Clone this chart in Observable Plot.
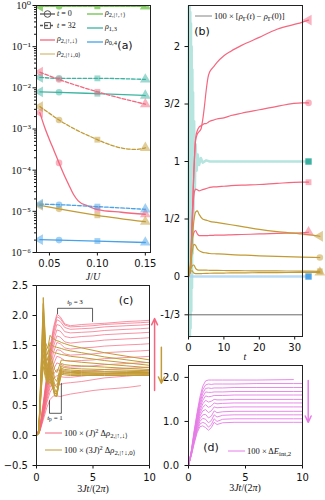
<!DOCTYPE html>
<html>
<head>
<meta charset="utf-8">
<script src="https://cdn.jsdelivr.net/npm/d3@7"></script>
<script src="https://cdn.jsdelivr.net/npm/@observablehq/plot@0.6"></script>
<style>
html,body{margin:0;padding:0;background:#fff;}
#wrap{position:relative;width:325px;height:500px;overflow:hidden;background:#fff;color:#111;font-family:"DejaVu Sans",sans-serif;}
.lbl{position:absolute;white-space:nowrap;line-height:1;color:#111;}
.m{font-family:"Liberation Serif","DejaVu Serif",serif;}
.s{font-family:"DejaVu Sans",sans-serif;}
.lbl sub{font-size:0.8em;vertical-align:-0.3em;line-height:0;}
.lbl sup{font-size:0.75em;vertical-align:0.45em;line-height:0;}
</style>
</head>
<body>
<div id="wrap"></div>
<script>
// ---------------- Panel (a): rho vs J/U (log) ----------------
const jU = [0.04, 0.06, 0.10, 0.15];
const aGreenT0 = [0.97, 0.97, 0.97, 0.97];
const aGreenT32 = [0.95, 0.95, 0.95, 0.95];
const aTealT0 = [0.0080, 0.0078, 0.0072, 0.0065];
const aTealT32 = [0.018, 0.017, 0.017, 0.016];
const aPinkT32 = [0.024, 0.016, 0.008, 0.004];
const aPinkT0 = [2.5e-3, 1.5e-4, 1.1e-5, 8.5e-6];
const aPinkT0CurveJ = [0.04, 0.045, 0.05, 0.055, 0.06, 0.065, 0.07, 0.075, 0.08, 0.09, 0.10, 0.125, 0.15];
const aPinkT0CurveV = [2.5e-3, 1.1e-3, 5.5e-4, 2.9e-4, 1.5e-4, 8e-5, 4.5e-5, 2.6e-5, 1.8e-5, 1.35e-5, 1.1e-5, 9.5e-6, 8.5e-6];
const aGoldT0 = [1.4e-5, 1.15e-5, 8e-6, 5.6e-6];
const aGoldT32 = [3.5e-3, 1.65e-3, 5.5e-4, 3.5e-4];
const aGoldT32CurveJ = [0.04, 0.05, 0.06, 0.07, 0.08, 0.09, 0.10, 0.11, 0.12, 0.13, 0.14, 0.15];
const aGoldT32CurveV = [3.5e-3, 2.4e-3, 1.65e-3, 1.2e-3, 9e-4, 7e-4, 5.5e-4, 4.4e-4, 3.7e-4, 3.3e-4, 3.2e-4, 3.5e-4];
const aBlueT0 = [2.05e-6, 2.0e-6, 1.9e-6, 1.75e-6];
const aBlueT32 = [1.5e-5, 1.45e-5, 1.3e-5, 1.12e-5];
const aXTicks = [0.05, 0.10, 0.15];
const aYTicks = [1e-6, 1e-5, 1e-4, 1e-3, 1e-2, 1e-1, 1];

// ---------------- Panel (b): 100 x [rho(t) - rho(0)] vs t ----------------
const bPinkT = [0, 0.5, 1, 1.5, 2, 2.5, 3, 3.5, 4, 4.5, 5, 5.5, 6, 7, 8, 10, 12, 15, 20, 25, 32, 33.9];
const bPink04 = [0, 0.05, 0.45, 0.9, 1.18, 1.24, 1.26, 1.28, 1.36, 1.48, 1.62, 1.73, 1.78, 1.82, 1.86, 1.92, 1.96, 2.01, 2.08, 2.15, 2.21, 2.23];
const bPink06 = [0, 0.05, 0.45, 0.9, 1.2, 1.27, 1.3, 1.31, 1.32, 1.33, 1.33, 1.34, 1.35, 1.36, 1.37, 1.38, 1.4, 1.42, 1.45, 1.48, 1.51, 1.51];
const bPink10 = [0, 0.05, 0.42, 0.7, 0.76, 0.755, 0.745, 0.75, 0.755, 0.76, 0.765, 0.77, 0.775, 0.78, 0.78, 0.785, 0.79, 0.795, 0.8, 0.81, 0.82, 0.82];
const bPink15 = [0, 0.05, 0.3, 0.38, 0.4, 0.37, 0.355, 0.355, 0.355, 0.355, 0.355, 0.356, 0.357, 0.358, 0.36, 0.36, 0.362, 0.365, 0.37, 0.375, 0.38, 0.385];
const bGoldT = [0, 0.5, 1, 1.5, 2, 2.5, 3, 4, 5, 6, 8, 10, 12, 16, 20, 25, 32, 37.1];
const bGold04 = [0, 0.1, 0.3, 0.48, 0.56, 0.57, 0.54, 0.5, 0.49, 0.48, 0.47, 0.46, 0.45, 0.43, 0.41, 0.39, 0.37, 0.35];
const bGold06 = [0, 0.08, 0.2, 0.28, 0.27, 0.24, 0.225, 0.21, 0.205, 0.2, 0.197, 0.194, 0.19, 0.185, 0.18, 0.175, 0.168, 0.165];
const bGold10 = [0, 0.05, 0.09, 0.1, 0.07, 0.058, 0.055, 0.055, 0.055, 0.054, 0.053, 0.052, 0.051, 0.05, 0.049, 0.048, 0.047, 0.045];
const bGold15 = [0, 0.04, 0.05, 0.03, 0.025, 0.025, 0.025, 0.026, 0.027, 0.028, 0.029, 0.03, 0.031, 0.032, 0.033, 0.034, 0.035, 0.036];
const bTealT = [0, 0.1, 0.2, 0.3, 0.4, 0.5, 0.6, 0.7, 0.8, 0.9, 1.0, 1.1, 1.2, 1.3, 1.4, 1.6, 1.8, 2.0, 2.3, 2.6, 3.0, 3.5, 4, 5, 6, 8, 12, 20, 33.9];
const bTealV = [0, 2.35, -0.52, 2.35, -0.52, 2.3, -0.45, 2.2, -0.3, 2.0, -0.1, 1.8, 0.2, 1.6, 0.5, 1.35, 0.75, 1.15, 0.92, 1.06, 0.97, 1.03, 0.99, 1.01, 1.0, 1.0, 1.0, 1.0, 1.0];
const bBlueT = [0, 1, 2, 5, 10, 20, 33.9];
const bBlueV = [0, 0, 0, 0, 0, 0, 0];
const bRef = [-1/3];
const bXTicks = [0, 10, 20, 30];
const bYTicks = [-1/3, 0, 0.5, 1, 1.5, 2];
const bYLabels = ["-1/3", "0", "1/2", "1", "3/2", "2"];

// ---------------- Panel (c) ----------------
const cPinkT = [0, 0.3, 0.6, 0.9, 1.2, 1.5, 1.8, 2.1, 2.5, 3, 4, 5, 6, 8, 9.2, 10];
const cPink = [
  [0, 0.15, 0.55, 1.0, 1.45, 1.8, 2.02, 1.98, 1.86, 1.83, 1.85, 1.86, 1.87, 1.9, 1.91, 1.92],
  [0, 0.14, 0.52, 0.95, 1.4, 1.75, 1.98, 1.95, 1.84, 1.81, 1.82, 1.83, 1.85, 1.87, 1.88, 1.89],
  [0, 0.13, 0.5, 0.92, 1.35, 1.7, 1.93, 1.9, 1.8, 1.77, 1.78, 1.79, 1.81, 1.83, 1.84, 1.85],
  [0, 0.12, 0.48, 0.9, 1.3, 1.64, 1.85, 1.83, 1.73, 1.71, 1.72, 1.73, 1.75, 1.77, 1.78, 1.79],
  [0, 0.12, 0.46, 0.86, 1.25, 1.56, 1.76, 1.74, 1.65, 1.63, 1.65, 1.66, 1.68, 1.7, 1.71, 1.72],
  [0, 0.11, 0.44, 0.82, 1.2, 1.48, 1.66, 1.64, 1.56, 1.54, 1.56, 1.57, 1.59, 1.61, 1.62, 1.63],
  [0, 0.1, 0.42, 0.78, 1.12, 1.38, 1.55, 1.53, 1.46, 1.44, 1.46, 1.47, 1.49, 1.51, 1.52, 1.53],
  [0, 0.1, 0.4, 0.74, 1.05, 1.28, 1.43, 1.42, 1.36, 1.34, 1.35, 1.36, 1.38, 1.4, 1.41, 1.42],
  [0, 0.1, 0.38, 0.7, 0.98, 1.18, 1.32, 1.3, 1.25, 1.24, 1.25, 1.26, 1.28, 1.3, 1.31, 1.32],
  [0, 0.09, 0.36, 0.66, 0.92, 1.1, 1.21, 1.19, 1.15, 1.14, 1.15, 1.16, 1.18, 1.2, 1.21, 1.22],
  [0, 0.09, 0.34, 0.62, 0.86, 1.02, 1.1, 1.08, 1.06, 1.05, 1.07, 1.08, 1.1, 1.12, 1.13, 1.14],
  [0, 0.08, 0.32, 0.58, 0.8, 0.94, 1.0, 0.98, 0.97, 0.97, 0.99, 1.01, 1.03, 1.05, 1.07, 1.08],
  [0, 0.08, 0.3, 0.54, 0.72, 0.82, 0.86, 0.85, 0.87, 0.88, 0.9, 0.93, 0.96, 0.99, 1.01, 1.03],
  [0, 0.07, 0.26, 0.46, 0.6, 0.66, 0.66, 0.65, 0.67, 0.69, 0.72, 0.75, 0.77, 0.8, 0.83, null]
];
const cGoldT = [0, 0.2, 0.4, 0.6, 0.8, 1.0, 1.2, 1.4, 1.6, 1.8, 2.0, 2.2, 2.5, 3, 4, 6, 8, 10];
const cGold = [
  [0, 0.05, 1.1, 2.3, 1.55, 1.45, 1.67, 1.62, 1.6, 1.58, 1.57, 1.55, 1.53, 1.5, 1.46, 1.38, 1.32, 1.26],
  [0, 0.05, 1.05, 2.2, 1.5, 1.35, 1.55, 1.5, 1.48, 1.47, 1.46, 1.45, 1.43, 1.41, 1.38, 1.31, 1.26, 1.21],
  [0, 0.05, 1.0, 2.05, 1.42, 1.25, 1.45, 1.4, 1.38, 1.37, 1.36, 1.35, 1.34, 1.32, 1.3, 1.25, 1.21, 1.17],
  [0, 0.04, 0.95, 1.95, 1.35, 1.15, 1.35, 1.25, 1.1, 1.05, 1.15, 1.26, 1.25, 1.24, 1.22, 1.19, 1.16, 1.13],
  [0, 0.04, 0.9, 1.85, 1.3, 1.08, 1.28, 1.15, 0.95, 0.9, 1.05, 1.2, 1.18, 1.17, 1.16, 1.14, 1.12, 1.1],
  [0, 0.04, 0.88, 1.75, 1.25, 1.02, 1.22, 1.05, 0.85, 0.8, 1.0, 1.15, 1.13, 1.12, 1.11, 1.1, 1.09, 1.08],
  [0, 0.04, 0.85, 1.65, 1.2, 0.98, 1.15, 0.98, 0.78, 0.72, 0.95, 1.12, 1.1, 1.09, 1.08, 1.07, 1.07, 1.06],
  [0, 0.03, 0.82, 1.55, 1.15, 0.95, 1.1, 0.92, 0.72, 0.68, 0.92, 1.1, 1.08, 1.07, 1.06, 1.06, 1.05, 1.05],
  [0, 0.03, 0.8, 1.45, 1.1, 0.92, 1.05, 0.88, 0.68, 0.66, 0.9, 1.08, 1.06, 1.05, 1.05, 1.04, 1.04, 1.04],
  [0, 0.03, 0.75, 1.35, 1.05, 0.9, 1.0, 0.85, 0.66, 0.65, 0.88, 1.06, 1.04, 1.04, 1.03, 1.03, 1.03, 1.03],
  [0, 0.03, 0.72, 1.25, 1.0, 0.88, 0.95, 0.82, 0.7, 0.7, 0.86, 1.04, 1.03, 1.02, 1.02, 1.02, 1.02, 1.02],
  [0, 0.03, 0.7, 1.15, 0.95, 0.85, 0.9, 0.8, 0.72, 0.74, 0.85, 1.02, 1.01, 1.0, 1.0, 1.0, 1.0, 1.0]
];
const cXTicks = [0, 5, 10];
const cYTicks = [-0.5, 0, 0.5, 1, 1.5, 2, 2.5];
// annotation brackets (data units)
const cBracket3 = [[1.86, 2.03], [1.86, 2.12], [4.96, 2.12], [4.96, 1.9]];
const cBracket1 = [[1.15, 0.58], [1.15, 0.37], [2.2, 0.37], [2.2, 0.87]];
const cArrows = [{x: 10.45, y1: 0.75, y2: 1.95, c: "pink"}, {x: 11.05, y1: 1.47, y2: 0.87, c: "gold"}];

// ---------------- Panel (d) ----------------
const dT = [0, 0.25, 0.5, 0.75, 1.0, 1.25, 1.5, 1.75, 2.0, 2.25, 2.5, 3, 4, 6, 9.2, 10];
const dE = [
  [0, 0.35, 0.8, 1.2, 1.55, 1.8, 1.92, 1.94, 1.94, 1.94, 1.94, 1.94, 1.94, 1.94, 1.95, null],
  [0, 0.33, 0.76, 1.15, 1.48, 1.72, 1.83, 1.85, 1.84, 1.85, 1.85, 1.85, 1.85, 1.86, 1.86, 1.86],
  [0, 0.32, 0.73, 1.1, 1.42, 1.64, 1.75, 1.76, 1.75, 1.76, 1.76, 1.76, 1.77, 1.77, 1.77, 1.77],
  [0, 0.31, 0.7, 1.05, 1.36, 1.56, 1.67, 1.66, 1.66, 1.67, 1.67, 1.67, 1.68, 1.68, 1.68, 1.68],
  [0, 0.3, 0.68, 1.02, 1.3, 1.48, 1.58, 1.56, 1.57, 1.59, 1.59, 1.59, 1.6, 1.6, 1.6, 1.6],
  [0, 0.29, 0.65, 0.98, 1.24, 1.4, 1.48, 1.44, 1.46, 1.5, 1.49, 1.49, 1.5, 1.5, 1.5, 1.5],
  [0, 0.28, 0.63, 0.94, 1.18, 1.32, 1.38, 1.32, 1.35, 1.42, 1.4, 1.41, 1.42, 1.42, 1.42, 1.42],
  [0, 0.27, 0.6, 0.9, 1.12, 1.24, 1.27, 1.2, 1.24, 1.33, 1.31, 1.32, 1.33, 1.33, 1.33, 1.33],
  [0, 0.26, 0.58, 0.86, 1.06, 1.15, 1.16, 1.08, 1.12, 1.24, 1.2, 1.22, 1.23, 1.23, 1.23, 1.23],
  [0, 0.25, 0.55, 0.82, 1.0, 1.07, 1.05, 0.97, 1.02, 1.15, 1.1, 1.14, 1.15, 1.15, 1.15, 1.15],
  [0, 0.24, 0.53, 0.78, 0.94, 0.98, 0.95, 0.87, 0.93, 1.06, 1.0, 1.05, 1.06, 1.06, 1.06, 1.06],
  [0, 0.23, 0.5, 0.74, 0.88, 0.9, 0.86, 0.8, 0.86, 0.98, 0.93, 0.97, 0.98, 0.98, 0.98, 0.98]
];
const dXTicks = [0, 5, 10];
const dYTicks = [0, 1, 2];
const dArrow = [{x: 10.5, y1: 1.93, y2: 0.98}];

// ---------------- styling ----------------
const PINK = "#f4677f", GOLD = "#c29b36", TEAL = "#3cb4a2", BLUE = "#46a2ea", GREEN = "#6fc24b", VIOLET = "#e57de6", GRAY = "#555";
const ST = {background: "transparent", overflow: "visible", fontFamily: "DejaVu Sans, sans-serif", fontSize: "10px", color: "#111"};
const SYMS = [["triangle", -90], ["circle", 0], ["square", 0], ["triangle", 0]];
const SERIF = "Liberation Serif, DejaVu Serif, serif";

function pts(xs, ys, s = 0) { return xs.map((x, i) => ({x, y: ys[i], s, k: i})).filter(d => d.y != null); }
function symMarks(rows, color, opts = {}) {
  return SYMS.map(([sym, rot], k) => Plot.dot(rows.filter(d => d.k === k), {
    x: "x", y: "y", symbol: sym, rotate: rot, r: sym === "triangle" ? 4 : 3.3,
    fill: color, fillOpacity: 0.5, stroke: "none", ...opts}));
}
const supMap = {"-": "⁻", "0": "⁰", "1": "¹", "2": "²", "3": "³", "4": "⁴", "5": "⁵", "6": "⁶", "7": "⁷", "8": "⁸", "9": "⁹"};
const pow10 = d => "10" + String(Math.round(Math.log10(d))).split("").map(c => supMap[c]).join("");
const minus = d => (d < 0 ? "−" : "") + Math.abs(d).toFixed(1);
const aYMinor = [];
for (let e = -6; e < 0; e++) for (let m = 2; m <= 9; m++) aYMinor.push(m * Math.pow(10, e));

// ---------------- Panel (a) ----------------
const aLines = [
  [jU, aGreenT32, GREEN, true], [jU, aGreenT0, GREEN, false],
  [jU, aTealT32, TEAL, true], [jU, aTealT0, TEAL, false],
  [jU, aPinkT32, PINK, true], [aPinkT0CurveJ, aPinkT0CurveV, PINK, false],
  [aGoldT32CurveJ, aGoldT32CurveV, GOLD, true], [jU, aGoldT0, GOLD, false],
  [jU, aBlueT32, BLUE, true], [jU, aBlueT0, BLUE, false]
];
const aMarks = [[aGreenT32, GREEN], [aGreenT0, GREEN], [aTealT32, TEAL], [aTealT0, TEAL], [aPinkT32, PINK], [aPinkT0, PINK],
  [aGoldT32, GOLD], [aGoldT0, GOLD], [aBlueT32, BLUE], [aBlueT0, BLUE]];

const pa = Plot.plot({
  width: 165, height: 285, marginLeft: 36, marginRight: 15, marginTop: 5, marginBottom: 33,
  x: {domain: [0.0365, 0.1554]},
  y: {type: "log", domain: [1e-6, 1]},
  style: ST,
  marks: [
    ...aLines.map(([xs, ys, c, dash]) => Plot.line(pts(xs, ys), {x: "x", y: "y", stroke: c, strokeWidth: 1.3,
      strokeDasharray: dash ? "3.6,1.8" : undefined, curve: "monotone-x", clip: true})),
    ...aMarks.flatMap(([ys, c]) => symMarks(pts(jU, ys), c, {clip: true})),
    Plot.axisX({ticks: aXTicks, tickFormat: d3.format(".2f"), tickSize: 3.5, tickPadding: 4, label: null}),
    Plot.axisY({ticks: aYTicks, tickFormat: pow10, tickSize: 3.5, tickPadding: 2, label: null, fontFamily: SERIF, fontSize: 10.5}),
    Plot.axisY({ticks: aYMinor, tickFormat: () => "", tickSize: 2, label: null}),
    Plot.frame({stroke: "#222"})
  ]
});

// ---------------- Panel (b) ----------------
const bPink = [bPink04, bPink06, bPink10, bPink15];
const bGold = [bGold04, bGold06, bGold10, bGold15];
const bPinkEnds = bPink.map((ys, i) => ({x: bPinkT[bPinkT.length - 1], y: ys[ys.length - 1], k: i}));
const bGoldEnds = bGold.map((ys, i) => ({x: bGoldT[bGoldT.length - 1], y: ys[ys.length - 1], k: i}));
const pb = Plot.plot({
  width: 160, height: 370, marginLeft: 23, marginRight: 23, marginTop: 5, marginBottom: 34,
  x: {domain: [0, 32.2]}, y: {domain: [-0.522, 2.357]},
  style: ST,
  marks: [
    Plot.line(pts(bTealT, bTealV), {x: "x", y: "y", stroke: "#86d2c8", strokeOpacity: 0.6, strokeWidth: 2.5}),
    Plot.line(pts(bBlueT, bBlueV), {x: "x", y: "y", stroke: "#a6d2f2", strokeOpacity: 0.8, strokeWidth: 2.5}),
    Plot.ruleY(bRef, {stroke: "#444", strokeWidth: 0.8}),
    Plot.line(bPink.flatMap((ys, i) => pts(bPinkT, ys, i)), {x: "x", y: "y", z: "s", stroke: PINK, strokeWidth: 1.2, curve: "monotone-x"}),
    Plot.line(bGold.flatMap((ys, i) => pts(bGoldT, ys, i)), {x: "x", y: "y", z: "s", stroke: GOLD, strokeWidth: 1.2, curve: "monotone-x"}),
    ...symMarks(bPinkEnds, PINK),
    ...symMarks(bGoldEnds, GOLD),
    Plot.dot([{x: bTealT[bTealT.length - 1], y: bTealV[bTealV.length - 1]}], {x: "x", y: "y", symbol: "square", r: 3.6, fill: "#2aa898", fillOpacity: 0.9}),
    Plot.dot([{x: bBlueT[bBlueT.length - 1], y: bBlueV[bBlueV.length - 1]}], {x: "x", y: "y", symbol: "square", r: 3.6, fill: "#3d9be6", fillOpacity: 0.9}),
    Plot.axisX({ticks: bXTicks, tickSize: 3.5, tickPadding: 4, label: null}),
    Plot.axisY({ticks: bYTicks, tickFormat: d => bYLabels[bYTicks.indexOf(d)], tickSize: 3.5, tickPadding: 5, label: null}),
    Plot.frame({stroke: "#222"})
  ]
});

// ---------------- Panel (c) ----------------
const pc = Plot.plot({
  width: 165, height: 220, marginLeft: 36, marginRight: 16, marginTop: 5, marginBottom: 35,
  x: {domain: [0, 10]}, y: {domain: [-0.5, 2.5]},
  style: ST,
  marks: [
    Plot.line(cPink.flatMap((ys, i) => pts(cPinkT, ys, i)), {x: "x", y: "y", z: "s", stroke: PINK, strokeOpacity: 0.9, strokeWidth: 0.8}),
    Plot.line(cGold.flatMap((ys, i) => pts(cGoldT, ys, i)), {x: "x", y: "y", z: "s", stroke: GOLD, strokeWidth: 1}),
    Plot.line(cBracket3, {x: d => d[0], y: d => d[1], stroke: "#333", strokeWidth: 0.8}),
    Plot.line(cBracket1, {x: d => d[0], y: d => d[1], stroke: "#333", strokeWidth: 0.8}),
    Plot.arrow(cArrows, {x: "x", y1: "y1", y2: "y2", stroke: d => d.c === "pink" ? PINK : GOLD, strokeWidth: 1.5, headLength: 7, headAngle: 50}),
    Plot.axisX({ticks: cXTicks, tickSize: 3.5, tickPadding: 5, label: null}),
    Plot.axisY({ticks: cYTicks, tickFormat: minus, tickSize: 3.5, tickPadding: 5, label: null}),
    Plot.frame({stroke: "#222"})
  ]
});

// ---------------- Panel (d) ----------------
const pd = Plot.plot({
  width: 160, height: 140, marginLeft: 23, marginRight: 23, marginTop: 5, marginBottom: 35,
  x: {domain: [0, 10]}, y: {domain: [0, 2.27]},
  style: ST,
  marks: [
    Plot.line(dE.flatMap((ys, i) => pts(dT, ys, i)), {x: "x", y: "y", z: "s", stroke: VIOLET, strokeWidth: 0.9}),
    Plot.arrow(dArrow, {x: "x", y1: "y1", y2: "y2", stroke: VIOLET, strokeWidth: 1.5, headLength: 7, headAngle: 50}),
    Plot.axisX({ticks: dXTicks, tickSize: 3.5, tickPadding: 4.5, label: null}),
    Plot.axisY({ticks: dYTicks, tickSize: 3.5, tickPadding: 6, label: null}),
    Plot.frame({stroke: "#222"})
  ]
});

// ---------------- assemble ----------------
const wrap = document.getElementById("wrap");
function place(node, left, top) { node.style.position = "absolute"; node.style.left = left + "px"; node.style.top = top + "px"; wrap.appendChild(node); }
place(pa, 0, 0); place(pb, 165, 0); place(pc, 0, 280); place(pd, 165, 360);

// legend keys overlay
const ov = d3.create("svg").attr("width", 325).attr("height", 500)
  .style("position", "absolute").style("left", "0px").style("top", "0px").style("overflow", "visible");
function key(x1, x2, y, color, {dash = null, sym = null, w = 1.3} = {}) {
  ov.append("line").attr("x1", x1).attr("x2", x2).attr("y1", y).attr("y2", y)
    .attr("stroke", color).attr("stroke-width", w).attr("stroke-dasharray", dash);
  if (sym) ov.append("path").attr("d", d3.symbol(sym === "circle" ? d3.symbolCircle : d3.symbolSquare, 34)())
    .attr("transform", `translate(${(x1 + x2) / 2},${y})`).attr("fill", "none").attr("stroke", color).attr("stroke-width", 1);
}
key(40, 55, 14, GRAY, {sym: "circle"});
key(40, 55, 25.5, GRAY, {sym: "square", dash: "3,2"});
key(40, 55, 40, PINK);
key(40, 55, 54, "#d7bf7e");
key(87, 103, 14, GREEN);
key(87, 103, 28, TEAL);
key(87, 103, 42, BLUE);
key(195, 212, 16, "#777", {w: 0.9});
key(45, 62, 433, PINK, {w: 1});
key(45, 62, 450, GOLD, {w: 1});
key(228, 245, 451, VIOLET, {w: 1});
wrap.appendChild(ov.node());

function txt(html, x, y, {size = 8, font = "m", anchor = "left"} = {}) {
  const d = document.createElement("div");
  d.className = "lbl " + font;
  d.innerHTML = html;
  d.style.fontSize = size + "px";
  d.style.left = x + "px"; d.style.top = y + "px";
  d.style.transform = anchor === "center" ? "translate(-50%,-50%)" : "translate(0,-50%)";
  wrap.appendChild(d);
}
// axis titles
txt("<i>J</i>/<i>U</i>", 93, 277, {size: 10, anchor: "center"});
txt("<i>t</i>", 245, 357, {size: 10, anchor: "center"});
txt("3<i>Jt</i>/(2<i>π</i>)", 93, 489, {size: 10, anchor: "center"});
txt("3<i>Jt</i>/(2<i>π</i>)", 245, 488, {size: 10, anchor: "center"});
// panel letters
txt("(a)", 125, 45, {size: 11, font: "s", anchor: "center"});
txt("(b)", 202, 31, {size: 11, font: "s", anchor: "center"});
txt("(c)", 126, 300, {size: 11, font: "s", anchor: "center"});
txt("(d)", 211, 447, {size: 11, font: "s", anchor: "center"});
// legends (a)
txt("<i>t</i> = 0", 57, 14);
txt("<i>t</i> = 32", 57, 25.5);
txt("<i>ρ</i><sub>2,|↑,↓⟩</sub>", 57, 39);
txt("<i>ρ</i><sub>2,|↑↓,0⟩</sub>", 57, 53);
txt("<i>ρ</i><sub>2,|↑,↑⟩</sub>", 105, 13);
txt("<i>ρ</i><sub>1,3</sub>", 105, 27);
txt("<i>ρ</i><sub>0,4</sub>", 105, 41);
// legend (b)
txt("100 × [<i>ρ</i><sub>Γ</sub>(<i>t</i>) − <i>ρ</i><sub>Γ</sub>(0)]", 214, 16, {size: 8.5});
// legends (c)
txt("100 × (<i>J</i>)<sup>2</sup> Δ<i>ρ</i><sub>2,|↑,↓⟩</sub>", 64, 433, {size: 8.5});
txt("100 × (3<i>J</i>)<sup>2</sup> Δ<i>ρ</i><sub>2,|↑↓,0⟩</sub>", 64, 450, {size: 8.5});
txt("<i>t</i><sub>p</sub> = 3", 75, 302, {size: 7, anchor: "center"});
txt("<i>t</i><sub>p</sub> = 1", 55, 418, {size: 7, anchor: "center"});
// legend (d)
txt("100 × Δ<i>E</i><sub>int,2</sub>", 247, 451, {size: 8.5});
</script>
</body>
</html>
